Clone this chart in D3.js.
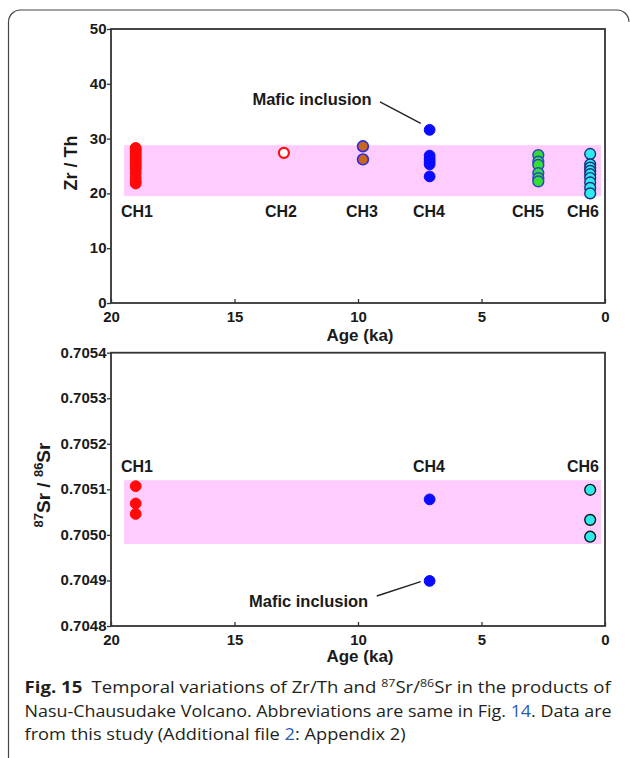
<!DOCTYPE html>
<html><head><meta charset="utf-8">
<script src="https://cdn.jsdelivr.net/npm/d3@7"></script>
<style>body{margin:0;background:#fff} svg{display:block}</style>
</head><body><svg id="c" width="630" height="758"></svg>
<script>
// ---------- data ----------
const ageTicks = [20, 15, 10, 5, 0];
const zrThTicks = [0, 10, 20, 30, 40, 50];
const srTicks = [0.7048, 0.7049, 0.7050, 0.7051, 0.7052, 0.7053, 0.7054];

const groups = ["CH1", "CH2", "CH3", "CH4", "CH5", "CH6"];
const groupAges = [19.0, 13.0, 9.8, 7.1, 2.7, 0.6];

const zrThCH1 = [28.3, 28.0, 27.6, 27.2, 26.8, 26.4, 26.0, 25.6, 25.2, 24.8, 24.4, 23.7, 22.9, 22.2, 21.8];
const zrThCH2 = [27.4];
const zrThCH3 = [28.6, 26.2];
const zrThCH4 = [26.9, 26.3, 25.8, 25.3, 23.1];
const zrThCH4Mafic = [31.6];
const zrThCH5 = [27.0, 25.8, 25.2, 23.7, 22.8, 22.2];
const zrThCH6 = [27.2, 25.3, 24.7, 24.1, 23.5, 22.8, 22.0, 21.0, 20.0];

const srCH1 = [0.705107, 0.705069, 0.705046];
const srCH4 = [0.705078];
const srCH4Mafic = [0.704899];
const srCH6 = [0.705099, 0.705033, 0.704996];

const bandAges = [19.47, 0.15];
const zrThBand = [19.5, 28.8];
const srBand = [0.70498, 0.70512];

const zrThLabelAges = [18.95, 13.12, 9.84, 7.13, 3.12, 0.89];
const zrThLabelValue = 15.75;
const srLabelGroups = ["CH1", "CH4", "CH6"];
const srLabelAges = [18.95, 7.13, 0.89];
const srLabelValue = 0.705137;

// annotation "Mafic inclusion": [text age, text value], leader line [from age, value, to age, value]
const zrThMaficText = [11.86, 36.1];
const zrThMaficLine = [9.11, 36.7, 7.46, 32.8];
const srMaficText = [12.0, 0.7048424];
const srMaficLine = [9.24, 0.7048659, 7.46, 0.7048973];

// ---------- styles ----------
const sty = {
  CH1: {fill: "#ff0a0a", stroke: "#ff0a0a", sw: 1},
  CH2: {fill: "#ffffff", stroke: "#ff1010", sw: 2.2},
  CH3: {fill: "#c9661c", stroke: "#2a2ae0", sw: 1.6},
  CH4: {fill: "#0a0aff", stroke: "#0a0aff", sw: 1},
  CH5: {fill: "#33dd33", stroke: "#2a44c8", sw: 1.5},
  CH6: {fill: "#2eecec", stroke: "#1b2a80", sw: 1.4}
};
const axisCol = "#333";
const svg = d3.select("#c");
const F = "'Liberation Sans', Arial, sans-serif";

// outer rounded box
svg.append("path")
  .attr("d", "M8.5,758 L8.5,22 A12,12 0 0 1 20.5,10 L617,10 A12,12 0 0 1 629,22")
  .attr("fill", "none").attr("stroke", "#444").attr("stroke-width", 1.2);

function panel(cfg) {
  const x = d3.scaleLinear().domain([20, 0]).range([111, 605]);
  const y = d3.scaleLinear().domain(cfg.ydomain).range(cfg.yrange);
  const g = svg.append("g");
  g.append("rect")
    .attr("x", x(bandAges[0])).attr("width", x(bandAges[1]) - x(bandAges[0]))
    .attr("y", y(cfg.band[1])).attr("height", y(cfg.band[0]) - y(cfg.band[1]))
    .attr("fill", "#ffccff");
  const ya = g.append("g").attr("transform", `translate(${x.range()[0]},0)`)
    .call(d3.axisLeft(y).tickValues(cfg.yticks).tickSize(4).tickSizeOuter(0).tickPadding(0.5).tickFormat(cfg.yfmt));
  const xa = g.append("g").attr("transform", `translate(0,${cfg.yrange[0]})`)
    .call(d3.axisBottom(x).tickValues(ageTicks).tickSizeInner(-4).tickSizeOuter(0).tickPadding(8).tickFormat(d3.format("d")));
  [ya, xa].forEach(a => {
    a.select(".domain").remove();
    a.selectAll("line").attr("stroke", axisCol).attr("stroke-width", 1.3);
    a.selectAll("text").attr("font-family", F).attr("font-weight", "bold").attr("font-size", 15).attr("fill", "#1a1a1a");
  });
  ya.selectAll("text").attr("dy", "0.3em");
  g.append("rect").attr("x", x.range()[0]).attr("y", cfg.yrange[1])
    .attr("width", x.range()[1] - x.range()[0]).attr("height", cfg.yrange[0] - cfg.yrange[1])
    .attr("fill", "none").attr("stroke", axisCol).attr("stroke-width", 1.8);
  g.append("text").attr("x", 360).attr("y", cfg.yrange[0] + cfg.xtitleOff)
    .attr("text-anchor", "middle").attr("font-family", F).attr("font-weight", "bold")
    .attr("font-size", 17).attr("fill", "#1a1a1a").text("Age (ka)");
  g.selectAll("text.lab").data(cfg.labels).enter().append("text").attr("class", "lab")
    .attr("x", d => x(d.age)).attr("y", y(cfg.labelValue))
    .attr("text-anchor", "middle").attr("font-family", F).attr("font-weight", "bold")
    .attr("font-size", 16).attr("fill", "#1a1a1a").text(d => d.name);
  g.append("line").attr("x1", x(cfg.maficLine[0])).attr("y1", y(cfg.maficLine[1]))
    .attr("x2", x(cfg.maficLine[2])).attr("y2", y(cfg.maficLine[3]))
    .attr("stroke", "#222").attr("stroke-width", 1.4);
  g.append("text").attr("x", x(cfg.maficText[0])).attr("y", y(cfg.maficText[1]))
    .attr("text-anchor", "middle").attr("font-family", F).attr("font-weight", "bold")
    .attr("font-size", 16.5).attr("fill", "#1a1a1a").text("Mafic inclusion");
  g.selectAll("circle.pt").data(cfg.points).enter().append("circle").attr("class", "pt")
    .attr("cx", d => x(d.age)).attr("cy", d => y(d.v)).attr("r", d => d.g === "CH2" ? 5 : 5.4)
    .attr("fill", d => sty[d.g].fill)
    .attr("stroke", d => (cfg.strokeOverride && cfg.strokeOverride[d.g]) || sty[d.g].stroke)
    .attr("stroke-width", d => sty[d.g].sw);
  return {x, y, g};
}

function pts(groupName, values) {
  const age = groupAges[groups.indexOf(groupName)];
  return values.map(v => ({g: groupName, age, v}));
}

// ---------- top panel ----------
panel({
  ydomain: [0, 50], yrange: [303, 29], yticks: zrThTicks, yfmt: d3.format("d"),
  band: zrThBand, xtitleOff: 38,
  labels: groups.map((n, i) => ({name: n, age: zrThLabelAges[i]})), labelValue: zrThLabelValue,
  maficText: zrThMaficText, maficLine: zrThMaficLine,
  points: [].concat(pts("CH1", zrThCH1), pts("CH2", zrThCH2), pts("CH3", zrThCH3),
    pts("CH4", zrThCH4), pts("CH4", zrThCH4Mafic), pts("CH5", zrThCH5), pts("CH6", zrThCH6))
});
svg.append("text").attr("transform", "translate(76.5,163) rotate(-90)")
  .attr("text-anchor", "middle").attr("font-family", F).attr("font-weight", "bold")
  .attr("font-size", 18).attr("fill", "#1a1a1a").text("Zr / Th");

// ---------- bottom panel ----------
panel({
  ydomain: [0.7048, 0.7054], yrange: [626, 352.7], yticks: srTicks, yfmt: d3.format(".4f"),
  band: srBand, xtitleOff: 36,
  labels: srLabelGroups.map((n, i) => ({name: n, age: srLabelAges[i]})), labelValue: srLabelValue,
  maficText: srMaficText, maficLine: srMaficLine,
  strokeOverride: {CH6: "#111"},
  points: [].concat(pts("CH1", srCH1), pts("CH4", srCH4), pts("CH4", srCH4Mafic), pts("CH6", srCH6))
});
const sl = svg.append("text").attr("transform", "translate(49.5,485) rotate(-90)")
  .attr("text-anchor", "middle").attr("font-family", F).attr("font-weight", "bold")
  .attr("font-size", 19).attr("fill", "#1a1a1a");
sl.append("tspan").attr("font-size", 13).attr("dy", -7).text("87");
sl.append("tspan").attr("dy", 7).text("Sr / ");
sl.append("tspan").attr("font-size", 13).attr("dy", -7).text("86");
sl.append("tspan").attr("dy", 7).text("Sr");

// ---------- caption ----------
const CF = "'Open Sans', 'Noto Sans', sans-serif";
const capLines = [
  [{t: "Fig. 15", b: true}, {t: "\u2002Temporal variations of Zr/Th and "}, {t: "87", sup: true}, {t: "Sr/", after: true}, {t: "86", sup: true}, {t: "Sr in the products of", after: true}],
  [{t: "Nasu-Chausudake Volcano. Abbreviations are same in Fig. "}, {t: "14", link: true}, {t: ". Data are"}],
  [{t: "from this study (Additional file "}, {t: "2", link: true}, {t: ": Appendix 2)"}]
];
const capBase = [693.3, 716.7, 740.3];
const capLeft = 24.5;
const capRight = [611, 612];
const capSize = 16.5;
const capTexts = capLines.map((parts) => {
  const t = svg.append("text").attr("x", 0).attr("y", 0).attr("font-family", CF)
    .attr("fill", "#231f20").attr("font-size", capSize);
  parts.forEach(p => {
    const s = t.append("tspan").text(p.t);
    if (p.b) s.attr("font-weight", "bold");
    if (p.link) s.attr("fill", "#2a5cb8");
    if (p.sup) s.attr("font-size", 11).attr("dy", -6.5);
    if (p.after) s.attr("dy", 6.5);
  });
  return t;
});
const sxs = capRight.map((r, i) => (r - capLeft) / capTexts[i].node().getComputedTextLength());
sxs.push((sxs[0] + sxs[1]) / 2);
capTexts.forEach((t, i) => t.attr("transform", `translate(${capLeft},${capBase[i]}) scale(${sxs[i]},1)`));
</script>
</body></html>
